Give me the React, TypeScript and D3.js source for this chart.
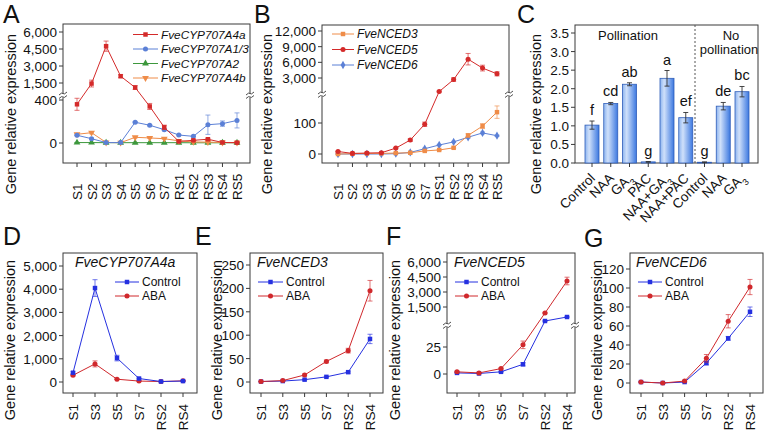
import React from 'react';
import * as d3 from 'd3';

const FONT = "'Liberation Sans', Arial, Helvetica, sans-serif";
const AX = '#3a3a3a';

// ---------- Panel A ----------
const stagesA = ["S1", "S2", "S3", "S4", "S5", "S6", "S7", "RS1", "RS2", "RS3", "RS4", "RS5"];
const cyp4a = [360, 1450, 4750, 2100, 1100, 340, 146, 15, 25, 35, 5, 3];
const cyp4aErr = [56, 300, 450, 130, 170, 28, 20, 4, 6, 8, 2, 1];
const cyp13 = [72, 40, 4, 4, 193, 165, 124, 74, 62, 170, 180, 210];
const cyp13Err = [5, 5, 1, 1, 6, 6, 8, 5, 5, 90, 25, 70];
const cyp2 = [4, 4, 3, 3, 3, 3, 3, 3, 2, 2, 2, 2];
const cyp2Err = [1, 1, 1, 1, 1, 1, 1, 1, 1, 1, 1, 1];
const cyp4b = [81, 96, 5, 3, 53, 47, 40, 20, 10, 8, 5, 3];
const cyp4bErr = [8, 10, 1, 1, 6, 5, 5, 8, 6, 4, 2, 1];
const ticksALow = [0, 400];
const ticksAUp = [1500, 3000, 4500, 6000];

// ---------- Panel B ----------
const nced3 = [0, 1, 2, 2, 3, 4, 10, 13, 20, 60, 90, 135];
const nced3Err = [1, 0.5, 0.5, 0.5, 0.5, 0.5, 1, 1, 2, 5, 8, 20];
const nced5 = [8, 2, 3, 4, 19, 45, 96, 400, 2700, 6600, 4900, 3800];
const nced5Err = [1, 0.5, 0.5, 0.5, 2, 4, 7, 100, 350, 1100, 550, 400];
const nced6 = [0, 0, 0, 0, 1, 5, 17, 29, 39, 54, 68, 59];
const nced6Err = [0.5, 0.5, 0.5, 0.5, 0.5, 1, 2, 2, 2, 3, 3, 2];
const ticksBLow = [0, 100];
const ticksBUp = [3000, 6000, 9000, 12000];

// ---------- Panel C ----------
const treatments = ["Control", "NAA", "GA3", "PAC", "NAA+GA3", "NAA+PAC", "Control", "NAA", "GA3"];
const cValues = [1.02, 1.60, 2.12, 0.03, 2.28, 1.22, 0.02, 1.53, 1.92];
const cErrors = [0.11, 0.03, 0.04, 0.01, 0.21, 0.14, 0.01, 0.10, 0.14];
const cLetters = ["f", "cd", "ab", "g", "a", "ef", "g", "de", "bc"];
const ticksC = [0, 0.5, 1.0, 1.5, 2.0, 2.5, 3.0, 3.5];

// ---------- Panels D-G ----------
const stagesD = ["S1", "S3", "S5", "S7", "RS2", "RS4"];
const dControl = [400, 4050, 1030, 150, 20, 40];
const dControlErr = [40, 360, 120, 20, 5, 10];
const dABA = [290, 780, 120, 40, 20, 50];
const dABAErr = [30, 130, 15, 5, 5, 10];
const ticksD = [0, 1000, 2000, 3000, 4000, 5000];

const eControl = [1, 2, 5, 11, 21, 92];
const eControlErr = [0.5, 0.5, 1, 1, 2, 10];
const eABA = [1, 3, 15, 44, 67, 195];
const eABAErr = [0.5, 0.5, 2, 3, 5, 22];
const ticksE = [0, 50, 100, 150, 200, 250];

const fControl = [1, 0.5, 2, 9, 100, 500];
const fControlErr = [0.3, 0.3, 0.3, 1.5, 20, 30];
const fABA = [2, 1, 5, 27, 900, 4100];
const fABAErr = [0.5, 0.3, 0.5, 3.5, 60, 380];
const ticksFLow = [0, 25];
const ticksFUp = [1500, 3000, 4500, 6000];

const gControl = [1, 0, 1, 21, 47, 75];
const gControlErr = [0.5, 0.3, 0.5, 2, 2, 5];
const gABA = [1, 0, 2, 26, 65, 101];
const gABAErr = [0.5, 0.3, 0.5, 4, 7, 8];
const ticksG = [0, 20, 40, 60, 80, 100, 120];

const RED = '#d42a2a';
const BLUE_A = '#5b80d6';
const GREEN = '#3d983d';
const ORANGE = '#ef8c48';
const CBLUE = '#2530e0';
const CRED = '#d0282c';

const fmtComma = d3.format(',');

type Seg = { domain: [number, number]; range: [number, number]; ticks: number[] };
type Series = { values: number[]; errs: number[]; color: string; shape: string };

const symbolOf = (shape: string) => {
  switch (shape) {
    case 'square': return d3.symbol().type(d3.symbolSquare).size(20)();
    case 'circle': return d3.symbol().type(d3.symbolCircle).size(20)();
    case 'tri': return d3.symbol().type(d3.symbolTriangle).size(20)();
    case 'tridown': return d3.symbol().type(d3.symbolTriangle).size(20)();
    case 'diamond': return d3.symbol().type(d3.symbolDiamond).size(20)();
    default: return d3.symbol().size(20)();
  }
};

function Marker({ shape, x, y, color }: { shape: string; x: number; y: number; color: string }) {
  const rot = shape === 'tridown' ? ' rotate(180)' : '';
  return <path d={symbolOf(shape) || ''} transform={`translate(${x},${y})${rot}`} fill={color} stroke="none" />;
}

function BreakMark({ x, y }: { x: number; y: number }) {
  return (
    <g>
      <rect x={x - 4} y={y - 2.5} width={8} height={4} fill="white" />
      <path d={`M${x - 4},${y - 1} Q${x - 1},${y - 4} ${x},${y - 2.5} T${x + 4},${y - 4}`} fill="none" stroke={AX} strokeWidth={0.9} />
      <path d={`M${x - 4},${y + 2.5} Q${x - 1},${y - 0.5} ${x},${y + 1} T${x + 4},${y - 0.5}`} fill="none" stroke={AX} strokeWidth={0.9} />
    </g>
  );
}

function LinePanel(p: {
  box: { l: number; r: number; t: number; b: number };
  cats: string[];
  xRange: [number, number];
  lower: Seg;
  upper?: Seg & { threshold: number; breakY: number };
  series: Series[];
  labelY: number;
  labelAnchor: 'start' | 'end';
  fmt: (n: number) => string;
}) {
  const { box } = p;
  const x = d3.scalePoint<string>().domain(p.cats).range(p.xRange);
  const lo = d3.scaleLinear().domain(p.lower.domain).range(p.lower.range);
  const up = p.upper ? d3.scaleLinear().domain(p.upper.domain).range(p.upper.range) : null;
  const seg = (v: number) => (up && p.upper && v > p.upper.threshold ? up : lo);
  const y = (v: number) => seg(v)(v);
  const line = d3.line<number>().x((_, i) => x(p.cats[i]) as number).y((v) => y(v));
  return (
    <g>
      <rect x={box.l} y={box.t} width={box.r - box.l} height={box.b - box.t} fill="none" stroke={AX} strokeWidth={1} />
      {p.upper && <BreakMark x={box.l} y={p.upper.breakY} />}
      {p.upper && <BreakMark x={box.r} y={p.upper.breakY} />}
      {p.lower.ticks.map((t) => (
        <g key={'l' + t}>
          <line x1={box.l - 4} x2={box.l} y1={lo(t)} y2={lo(t)} stroke={AX} />
          <text x={box.l - 6} y={lo(t) + 5} textAnchor="end" fontSize={13.5} fill="#111">{p.fmt(t)}</text>
        </g>
      ))}
      {up && p.upper && p.upper.ticks.map((t) => (
        <g key={'u' + t}>
          <line x1={box.l - 4} x2={box.l} y1={up(t)} y2={up(t)} stroke={AX} />
          <text x={box.l - 6} y={up(t) + 5} textAnchor="end" fontSize={13.5} fill="#111">{p.fmt(t)}</text>
        </g>
      ))}
      {p.cats.map((c) => (
        <g key={c}>
          <line x1={x(c)} x2={x(c)} y1={box.b} y2={box.b + 4} stroke={AX} />
          <text transform={`translate(${(x(c) as number) + 5},${p.labelY}) rotate(-90)`} textAnchor={p.labelAnchor} fontSize={13.5} fill="#111">{c}</text>
        </g>
      ))}
      {p.series.map((s, si) => (
        <g key={si}>
          {s.values.map((v, i) => {
            const sc = seg(v);
            const cx = x(p.cats[i]) as number;
            const y1 = sc(v - s.errs[i]);
            const y2 = sc(v + s.errs[i]);
            return (
              <g key={i} stroke={s.color} strokeOpacity={0.65} strokeWidth={1}>
                <line x1={cx} x2={cx} y1={y1} y2={y2} />
                <line x1={cx - 2.5} x2={cx + 2.5} y1={y1} y2={y1} />
                <line x1={cx - 2.5} x2={cx + 2.5} y1={y2} y2={y2} />
              </g>
            );
          })}
          <path d={line(s.values) || ''} fill="none" stroke={s.color} strokeWidth={1} />
          {s.values.map((v, i) => (
            <Marker key={i} shape={s.shape} x={x(p.cats[i]) as number} y={y(v)} color={s.color} />
          ))}
        </g>
      ))}
    </g>
  );
}

function YLabel({ x, y }: { x: number; y: number }) {
  return (
    <text transform={`translate(${x},${y}) rotate(-90)`} textAnchor="middle" fontSize={14.5} fill="#111">
      Gene relative expression
    </text>
  );
}

function Letter({ x, y, t }: { x: number; y: number; t: string }) {
  return <text x={x} y={y} fontSize={25} fill="#111">{t}</text>;
}

function LegendItem({ x, y, w, label, color, shape, fs, italic }: { x: number; y: number; w: number; label: string; color: string; shape: string; fs: number; italic?: boolean }) {
  return (
    <g>
      <line x1={x} x2={x + w} y1={y} y2={y} stroke={color} strokeWidth={1} />
      <Marker shape={shape} x={x + w / 2} y={y} color={color} />
      <text x={x + w + 3} y={y + fs * 0.36} fontSize={fs} fontStyle={italic ? 'italic' : 'normal'} fill="#111">{label}</text>
    </g>
  );
}

function GA({ s }: { s: string }) {
  const parts = s.split('GA3');
  return (
    <>
      {parts.map((pt, i) => (
        <React.Fragment key={i}>
          {pt}
          {i < parts.length - 1 && (
            <>
              GA<tspan baselineShift="sub" fontSize={9}>3</tspan>
            </>
          )}
        </React.Fragment>
      ))}
    </>
  );
}

function PanelC() {
  const box = { l: 575, r: 758, t: 25, b: 163 };
  const y = d3.scaleLinear().domain([0, 3.5]).range([163, 33]);
  const x = d3.scalePoint<number>().domain(treatments.map((_, i) => i)).range([592, 742]);
  const bw = 14;
  return (
    <g>
      <defs>
        <linearGradient id="barGrad" x1="0" x2="1" y1="0" y2="0">
          <stop offset="0%" stopColor="#8db4ef" />
          <stop offset="30%" stopColor="#cfe0fa" />
          <stop offset="100%" stopColor="#3c78e0" />
        </linearGradient>
      </defs>
      <rect x={box.l} y={box.t} width={box.r - box.l} height={box.b - box.t} fill="none" stroke={AX} strokeWidth={1} />
      {ticksC.map((t) => (
        <g key={t}>
          <line x1={box.l - 4} x2={box.l} y1={y(t)} y2={y(t)} stroke={AX} />
          <text x={box.l - 6} y={y(t) + 5} textAnchor="end" fontSize={13.5} fill="#111">{t.toFixed(1)}</text>
        </g>
      ))}
      <line x1={695} x2={695} y1={box.t} y2={box.b} stroke="#555" strokeDasharray="2,2" strokeWidth={1} />
      {cValues.map((v, i) => {
        const cx = x(i) as number;
        const yt = y(v + cErrors[i]);
        const yb = y(v - cErrors[i]);
        return (
          <g key={i}>
            <rect x={cx - bw / 2} y={y(v)} width={bw} height={y(0) - y(v)} fill="url(#barGrad)" stroke="#2e5db8" strokeWidth={0.8} />
            <line x1={cx} x2={cx} y1={yt} y2={yb} stroke="#333" strokeWidth={0.9} />
            <line x1={cx - 2.5} x2={cx + 2.5} y1={yt} y2={yt} stroke="#333" strokeWidth={0.9} />
            <line x1={cx - 2.5} x2={cx + 2.5} y1={yb} y2={yb} stroke="#333" strokeWidth={0.9} />
            <text x={cx} y={yt - 6} textAnchor="middle" fontSize={14.5} fill="#111">{cLetters[i]}</text>
            <line x1={cx} x2={cx} y1={box.b} y2={box.b + 4} stroke={AX} />
            <text transform={`translate(${cx + 4},${box.b + 16}) rotate(-45)`} textAnchor="end" fontSize={13.5} fill="#111">
              <GA s={treatments[i]} />
            </text>
          </g>
        );
      })}
      <text x={628} y={40} textAnchor="middle" fontSize={13} fill="#111">Pollination</text>
      <text x={731} y={40} textAnchor="middle" fontSize={13} fill="#111">No</text>
      <text x={729} y={54} textAnchor="middle" fontSize={13} fill="#111">pollination</text>
    </g>
  );
}

export default function App() {
  return (
    <svg width={764} height={433} style={{ position: 'absolute', left: 0, top: 0, fontFamily: FONT, background: 'white' }}>
      <rect width={764} height={433} fill="white" />
      {/* Panel A */}
      <Letter x={3} y={23} t="A" />
      <YLabel x={16} y={114} />
      <LinePanel
        box={{ l: 63, r: 250, t: 24, b: 163 }}
        cats={stagesA}
        xRange={[77, 237]}
        lower={{ domain: [0, 400], range: [143, 100], ticks: ticksALow }}
        upper={{ domain: [1500, 6000], range: [83, 32], ticks: ticksAUp, threshold: 428, breakY: 96 }}
        series={[
          { values: cyp2, errs: cyp2Err, color: GREEN, shape: 'tri' },
          { values: cyp4b, errs: cyp4bErr, color: ORANGE, shape: 'tridown' },
          { values: cyp13, errs: cyp13Err, color: BLUE_A, shape: 'circle' },
          { values: cyp4a, errs: cyp4aErr, color: RED, shape: 'square' },
        ]}
        labelY={200}
        labelAnchor="start"
        fmt={fmtComma}
      />
      <LegendItem x={133} y={34.5} w={25} label="FveCYP707A4a" color={RED} shape="square" fs={11.8} italic />
      <LegendItem x={133} y={49} w={25} label="FveCYP707A1/3" color={BLUE_A} shape="circle" fs={11.8} italic />
      <LegendItem x={133} y={63.5} w={25} label="FveCYP707A2" color={GREEN} shape="tri" fs={11.8} italic />
      <LegendItem x={133} y={78} w={25} label="FveCYP707A4b" color={ORANGE} shape="tridown" fs={11.8} italic />

      {/* Panel B */}
      <Letter x={254} y={23} t="B" />
      <YLabel x={272} y={114} />
      <LinePanel
        box={{ l: 322, r: 509, t: 25, b: 163 }}
        cats={stagesA}
        xRange={[338, 497]}
        lower={{ domain: [0, 100], range: [154, 123], ticks: ticksBLow }}
        upper={{ domain: [3000, 12000], range: [78, 31], ticks: ticksBUp, threshold: 190, breakY: 95 }}
        series={[
          { values: nced6, errs: nced6Err, color: BLUE_A, shape: 'diamond' },
          { values: nced3, errs: nced3Err, color: ORANGE, shape: 'square' },
          { values: nced5, errs: nced5Err, color: RED, shape: 'circle' },
        ]}
        labelY={200}
        labelAnchor="start"
        fmt={fmtComma}
      />
      <LegendItem x={332} y={34} w={22} label="FveNCED3" color={ORANGE} shape="square" fs={12} italic />
      <LegendItem x={332} y={49.5} w={22} label="FveNCED5" color={RED} shape="circle" fs={12} italic />
      <LegendItem x={332} y={65} w={22} label="FveNCED6" color={BLUE_A} shape="diamond" fs={12} italic />

      {/* Panel C */}
      <Letter x={517} y={23} t="C" />
      <YLabel x={541} y={114} />
      <PanelC />

      {/* Panel D */}
      <Letter x={3} y={245} t="D" />
      <YLabel x={15} y={340} />
      <LinePanel
        box={{ l: 63, r: 197, t: 253, b: 393 }}
        cats={stagesD}
        xRange={[73, 183]}
        lower={{ domain: [0, 5000], range: [382, 266], ticks: ticksD }}
        series={[
          { values: dABA, errs: dABAErr, color: CRED, shape: 'circle' },
          { values: dControl, errs: dControlErr, color: CBLUE, shape: 'square' },
        ]}
        labelY={404}
        labelAnchor="end"
        fmt={fmtComma}
      />
      <text x={75} y={267} fontSize={14} fontStyle="italic" fill="#111">FveCYP707A4a</text>
      <LegendItem x={115} y={282} w={24} label="Control" color={CBLUE} shape="square" fs={12} />
      <LegendItem x={115} y={296} w={24} label="ABA" color={CRED} shape="circle" fs={12} />

      {/* Panel E */}
      <Letter x={195} y={245} t="E" />
      <YLabel x={222} y={340} />
      <LinePanel
        box={{ l: 250, r: 383, t: 253, b: 393 }}
        cats={stagesD}
        xRange={[261, 370]}
        lower={{ domain: [0, 250], range: [382, 265], ticks: ticksE }}
        series={[
          { values: eControl, errs: eControlErr, color: CBLUE, shape: 'square' },
          { values: eABA, errs: eABAErr, color: CRED, shape: 'circle' },
        ]}
        labelY={404}
        labelAnchor="end"
        fmt={fmtComma}
      />
      <text x={257} y={267} fontSize={14} fontStyle="italic" fill="#111">FveNCED3</text>
      <LegendItem x={258} y={282} w={25} label="Control" color={CBLUE} shape="square" fs={12} />
      <LegendItem x={258} y={296} w={25} label="ABA" color={CRED} shape="circle" fs={12} />

      {/* Panel F */}
      <Letter x={386} y={245} t="F" />
      <YLabel x={400} y={340} />
      <LinePanel
        box={{ l: 447, r: 575, t: 253, b: 393 }}
        cats={stagesD}
        xRange={[457, 567]}
        lower={{ domain: [0, 25], range: [374, 347], ticks: ticksFLow }}
        upper={{ domain: [1500, 6000], range: [307, 262], ticks: ticksFUp, threshold: 44, breakY: 326 }}
        series={[
          { values: fControl, errs: fControlErr, color: CBLUE, shape: 'square' },
          { values: fABA, errs: fABAErr, color: CRED, shape: 'circle' },
        ]}
        labelY={404}
        labelAnchor="end"
        fmt={fmtComma}
      />
      <text x={454} y={267} fontSize={14} fontStyle="italic" fill="#111">FveNCED5</text>
      <LegendItem x={455} y={282} w={23} label="Control" color={CBLUE} shape="square" fs={12} />
      <LegendItem x={455} y={296} w={23} label="ABA" color={CRED} shape="circle" fs={12} />

      {/* Panel G */}
      <Letter x={584} y={247} t="G" />
      <YLabel x={602} y={340} />
      <LinePanel
        box={{ l: 630, r: 763, t: 253, b: 393 }}
        cats={stagesD}
        xRange={[641, 750]}
        lower={{ domain: [0, 120], range: [383, 269], ticks: ticksG }}
        series={[
          { values: gControl, errs: gControlErr, color: CBLUE, shape: 'square' },
          { values: gABA, errs: gABAErr, color: CRED, shape: 'circle' },
        ]}
        labelY={404}
        labelAnchor="end"
        fmt={fmtComma}
      />
      <text x={636} y={267} fontSize={14} fontStyle="italic" fill="#111">FveNCED6</text>
      <LegendItem x={638} y={282} w={24} label="Control" color={CBLUE} shape="square" fs={12} />
      <LegendItem x={638} y={296} w={24} label="ABA" color={CRED} shape="circle" fs={12} />
    </svg>
  );
}
